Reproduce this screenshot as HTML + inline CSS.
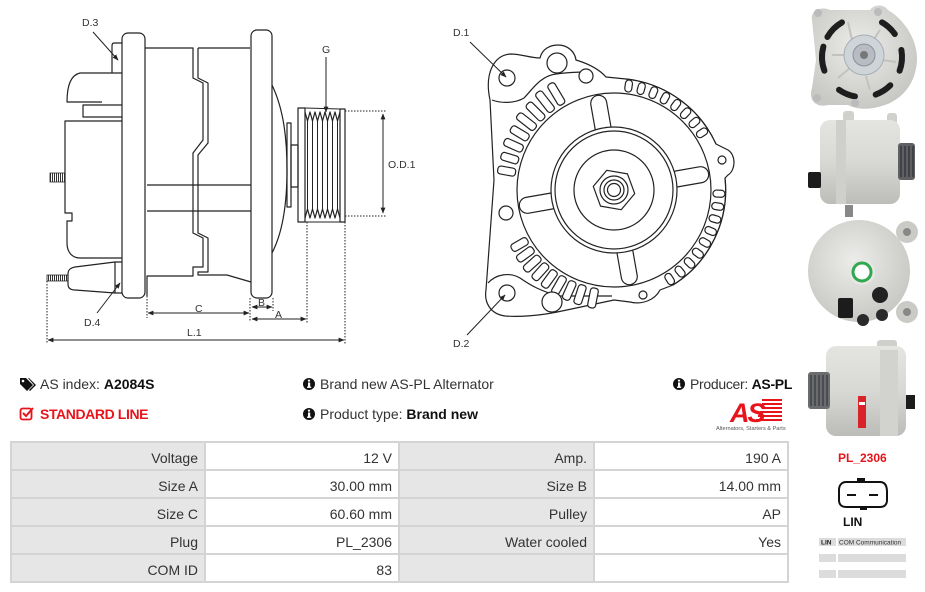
<!DOCTYPE html>
<html><head><meta charset="utf-8">
<style>
*{margin:0;padding:0;box-sizing:border-box}
body{width:925px;height:592px;background:#fff;position:relative;overflow:hidden;font-family:"Liberation Sans",Arial,sans-serif;color:#333}
.t{position:absolute;font-size:14px;line-height:16px;white-space:nowrap;color:#333}
.t b{color:#111}
.cell{position:absolute;height:26px;font-size:14px;line-height:26px;text-align:right;padding-right:6px;color:#333;padding-top:2px}
.g{background:#e6e6e6}
.w{background:#fff}
svg{position:absolute;left:0;top:0}
</style></head><body>
<svg width="925" height="592" viewBox="0 0 925 592" xmlns="http://www.w3.org/2000/svg">
<defs>
<pattern id="hp" width="2" height="10" patternUnits="userSpaceOnUse"><rect width="1" height="10" fill="#333"/></pattern>
<marker id="ar" viewBox="0 0 10 10" refX="9" refY="5" markerWidth="6" markerHeight="6" orient="auto-start-reverse"><path d="M0,1 L10,5 L0,9 Z" fill="#222"/></marker>
<radialGradient id="gp" cx="45%" cy="40%" r="60%"><stop offset="0" stop-color="#ececea"/><stop offset="1" stop-color="#c8c8c4"/></radialGradient>
<linearGradient id="gs" x1="0" y1="0" x2="0" y2="1"><stop offset="0" stop-color="#e4e4e1"/><stop offset="0.5" stop-color="#d8d8d4"/><stop offset="1" stop-color="#bcbcb8"/></linearGradient>
</defs>

<!-- LEFT DIAGRAM -->
<g fill="none" stroke="#222" stroke-width="1.2" stroke-linejoin="round">
<path d="M122,73 L80,73 C71,75 67,86 67,102 L102,102"/>
<path d="M122,105 L83,105 L83,117 L122,117"/>
<path d="M122,121 L65,121 L65,213 L72,213 L72,221 L67,221 L67,243 C67,252 72,258 80,258 L125,258"/>
<path d="M122,43 L114,43 Q112,43 112,46 L112,73"/>
<rect x="50" y="173" width="15" height="9" fill="url(#hp)" stroke-width="0.8"/>
<path d="M115,262 L75,267 C70,268 68,270 68,274 L68,284 C68,288 70,290 75,290 L115,293"/>
<rect x="115" y="262" width="9" height="31"/>
<rect x="47" y="275" width="21" height="6" fill="url(#hp)" stroke-width="0.8"/>
<rect x="122" y="33" width="23" height="265" rx="6" fill="#fff"/>
<path d="M145,48 L193,48 L193,78 L203,83 L203,140 L193,153 L193,233 L203,238 L203,267 L193,267 L193,276 L147,276 L147,296"/>
<path d="M198,48 L250,48"/>
<path d="M198,48 L198,78 L208,83 L208,143 L198,155 L198,233 L208,238 L208,272 L198,272 L198,275 L227,275 L251,282"/>
<path d="M147,185 L251,185 M147,211 L251,211"/>
<rect x="251" y="30" width="21" height="268" rx="6" fill="#fff"/>
<path d="M272,85 C284,110 287,140 287,170 C287,200 284,230 272,253"/>
<rect x="287" y="123" width="4" height="84"/>
<rect x="291" y="145" width="7" height="42"/>
<rect x="298" y="108" width="7" height="114"/>
<rect x="340" y="109" width="5" height="113"/>
<path d="M305,112 L307.5,121 L310,112 L312.5,121 L315,112 L317.5,121 L320,112 L322.5,121 L325,112 L327.5,121 L330,112 L332.5,121 L335,112 L337.5,121 L340,112"/>
<path d="M305,218 L307.5,209 L310,218 L312.5,209 L315,218 L317.5,209 L320,218 L322.5,209 L325,218 L327.5,209 L330,218 L332.5,209 L335,218 L337.5,209 L340,218"/>
<path d="M307.5,121 V209 M312.5,121 V209 M317.5,121 V209 M322.5,121 V209 M327.5,121 V209 M332.5,121 V209 M337.5,121 V209" stroke-width="1"/>
<path d="M305,108 L340,109 M305,222 L340,222" stroke-width="1"/>
</g>
<g fill="none" stroke="#222" stroke-width="1">
<line x1="326" y1="57" x2="326" y2="112" marker-end="url(#ar)"/>
<line x1="93" y1="32" x2="118" y2="60" marker-end="url(#ar)"/>
<line x1="97" y1="313" x2="120" y2="283" marker-end="url(#ar)"/>
<line x1="383" y1="114" x2="383" y2="213" marker-start="url(#ar)" marker-end="url(#ar)"/>
<line x1="148" y1="313" x2="249" y2="313" marker-start="url(#ar)" marker-end="url(#ar)"/>
<line x1="252" y1="307" x2="272" y2="307" marker-start="url(#ar)" marker-end="url(#ar)"/>
<line x1="252" y1="319" x2="306" y2="319" marker-start="url(#ar)" marker-end="url(#ar)"/>
<line x1="48" y1="340" x2="344" y2="340" marker-start="url(#ar)" marker-end="url(#ar)"/>
<g stroke-dasharray="1.5 1.5">
<path d="M345,111 H386 M345,216 H386"/>
<path d="M147,296 V318 M250,298 V322 M273,298 V311 M307,222 V323 M345,222 V344 M47,281 V344"/>
</g>
</g>
<g font-family="Liberation Sans, sans-serif" font-size="10.5" fill="#333">
<text x="82" y="26">D.3</text>
<text x="84" y="326">D.4</text>
<text x="322" y="53">G</text>
<text x="388" y="168">O.D.1</text>
<text x="195" y="312">C</text>
<text x="258" y="306">B</text>
<text x="275" y="318">A</text>
<text x="187" y="336">L.1</text>
<text x="453" y="36">D.1</text>
<text x="453" y="347">D.2</text>
</g>

<!-- MIDDLE DIAGRAM -->
<g fill="#fff" stroke="#222" stroke-width="1.2" stroke-linejoin="round">
<path d="M490,100 C484,72 495,55 510,54 C522,54 530,58 540,58 C542,49 550,45 558,45 C568,45 575,52 576,60 C586,63 598,68 606,77 L626,79 A112,112 0 0 1 716,144 L728,150 C736,155 736,170 728,175 L725,178 A112,112 0 0 1 673,285 L660,290 C655,300 642,305 630,302 L614,300 L562,311 C540,316 518,317 505,316 C490,314 484,302 486,290 L494,180 Z"/>
<path d="M492,100 C500,103 514,104 524,98 C532,90 540,76 556,74 C570,72 580,72 588,72" fill="none"/>
<path d="M488,283 C496,274 510,272 520,278 C530,285 542,292 560,296 L612,296" fill="none"/>
<g fill="#fff">
<rect x="714" y="186" width="24" height="8" rx="3" transform="rotate(-121 614 190)"/>
<rect x="714" y="186" width="24" height="8" rx="3" transform="rotate(-128 614 190)"/>
<rect x="714" y="186" width="22" height="8" rx="3" transform="rotate(-135 614 190)"/>
<rect x="714" y="186" width="22" height="8" rx="3" transform="rotate(-142 614 190)"/>
<rect x="714" y="186" width="20" height="8" rx="3" transform="rotate(-149 614 190)"/>
<rect x="714" y="186" width="20" height="8" rx="3" transform="rotate(-156 614 190)"/>
<rect x="714" y="186" width="18" height="8" rx="3" transform="rotate(-163 614 190)"/>
<rect x="714" y="186" width="18" height="8" rx="3" transform="rotate(-170 614 190)"/>
<rect x="714" y="186" width="18" height="8" rx="3" transform="rotate(150 614 190)"/>
<rect x="714" y="186" width="19" height="8" rx="3" transform="rotate(144 614 190)"/>
<rect x="714" y="186" width="20" height="8" rx="3" transform="rotate(138 614 190)"/>
<rect x="714" y="186" width="20" height="8" rx="3" transform="rotate(132 614 190)"/>
<rect x="714" y="186" width="20" height="8" rx="3" transform="rotate(126 614 190)"/>
<rect x="714" y="186" width="20" height="8" rx="3" transform="rotate(120 614 190)"/>
<rect x="714" y="186" width="20" height="8" rx="3" transform="rotate(114 614 190)"/>
<rect x="714" y="186" width="20" height="8" rx="3" transform="rotate(108 614 190)"/>
<rect x="714" y="186" width="20" height="8" rx="3" transform="rotate(101 614 190)"/>
</g>
<g fill="#fff">
<rect x="713" y="186.5" width="12" height="7" rx="3.5" transform="rotate(-82 614 190)"/>
<rect x="713" y="186.5" width="12" height="7" rx="3.5" transform="rotate(-75 614 190)"/>
<rect x="713" y="186.5" width="12" height="7" rx="3.5" transform="rotate(-68 614 190)"/>
<rect x="713" y="186.5" width="12" height="7" rx="3.5" transform="rotate(-61 614 190)"/>
<rect x="713" y="186.5" width="12" height="7" rx="3.5" transform="rotate(-54 614 190)"/>
<rect x="713" y="186.5" width="12" height="7" rx="3.5" transform="rotate(-47 614 190)"/>
<rect x="713" y="186.5" width="12" height="7" rx="3.5" transform="rotate(-40 614 190)"/>
<rect x="713" y="186.5" width="12" height="7" rx="3.5" transform="rotate(-33 614 190)"/>
<rect x="713" y="186.5" width="12" height="7" rx="3.5" transform="rotate(2 614 190)"/>
<rect x="713" y="186.5" width="12" height="7" rx="3.5" transform="rotate(9 614 190)"/>
<rect x="713" y="186.5" width="12" height="7" rx="3.5" transform="rotate(16 614 190)"/>
<rect x="713" y="186.5" width="12" height="7" rx="3.5" transform="rotate(23 614 190)"/>
<rect x="713" y="186.5" width="12" height="7" rx="3.5" transform="rotate(30 614 190)"/>
<rect x="713" y="186.5" width="12" height="7" rx="3.5" transform="rotate(37 614 190)"/>
<rect x="713" y="186.5" width="12" height="7" rx="3.5" transform="rotate(44 614 190)"/>
<rect x="713" y="186.5" width="12" height="7" rx="3.5" transform="rotate(51 614 190)"/>
<rect x="713" y="186.5" width="12" height="7" rx="3.5" transform="rotate(58 614 190)"/>
</g>
<path d="M626,79 A112,112 0 0 1 716,144 M725,178 A112,112 0 0 1 673,285" fill="none"/>
<circle cx="614" cy="190" r="97"/>
<g fill="#fff">
<rect x="670" y="182" width="40" height="16" rx="8" transform="rotate(-100 614 190)"/>
<rect x="670" y="182" width="40" height="16" rx="8" transform="rotate(-10 614 190)"/>
<rect x="670" y="182" width="40" height="16" rx="8" transform="rotate(80 614 190)"/>
<rect x="670" y="182" width="40" height="16" rx="8" transform="rotate(170 614 190)"/>
</g>
<circle cx="614" cy="190" r="63"/>
<circle cx="614" cy="190" r="59"/>
<circle cx="614" cy="190" r="40"/>
<polygon points="634.7,193.6 621.2,209.7 600.5,206.1 593.3,186.4 606.8,170.3 627.5,173.9"/>
<circle cx="614" cy="190" r="14"/>
<circle cx="614" cy="190" r="10"/>
<circle cx="614" cy="190" r="6.5"/>
<circle cx="507" cy="78" r="8"/>
<circle cx="557" cy="63" r="10"/>
<circle cx="586" cy="76" r="7"/>
<circle cx="506" cy="213" r="7"/>
<circle cx="507" cy="293" r="8"/>
<circle cx="552" cy="302" r="10"/>
<circle cx="722" cy="160" r="4"/>
<circle cx="643" cy="295" r="4"/>
</g>
<g stroke="#222" stroke-width="1" fill="none">
<line x1="470" y1="42" x2="506" y2="77" marker-end="url(#ar)"/>
<line x1="467" y1="335" x2="505" y2="295" marker-end="url(#ar)"/>
</g>

<!-- PHOTOS -->
<!-- photo 1 front -->
<g>
<path d="M812,20 C810,10 822,6 830,10 L870,10 C874,4 884,4 888,10 C905,20 917,40 917,58 C917,80 905,98 885,105 C870,110 858,110 848,105 L828,105 C816,108 808,100 812,88 L816,60 Z" fill="url(#gp)"/>
<g fill="none" stroke="#1e1e1e" stroke-width="6" stroke-linecap="round">
<path d="M827.4,37 A40,40 0 0 1 842,22.4"/>
<path d="M882,22.4 A40,40 0 0 1 894.8,34"/>
<path d="M901.4,50 A40,40 0 0 1 899.6,70.7"/>
<path d="M890.3,85.3 A40,40 0 0 1 875.7,94.6"/>
<path d="M855,96.4 A40,40 0 0 1 839,89.8"/>
<path d="M824.4,70.7 A40,40 0 0 1 823.4,46.6"/>
</g>
<g fill="none" stroke="#c2c2be" stroke-width="2">
<path d="M848,22 L852,40 M880,30 L872,42 M896,62 L882,60 M870,90 L866,76 M838,78 L850,68 M832,55 L846,55"/>
</g>
<circle cx="864" cy="55" r="20" fill="#cfd4d8" stroke="#a8aeb3"/>
<circle cx="864" cy="55" r="11" fill="#b6bcc2" stroke="#8c9297"/>
<circle cx="864" cy="55" r="4" fill="#777"/>
<circle cx="818" cy="13" r="4" fill="#bbb"/><circle cx="878" cy="12" r="4" fill="#bbb"/><circle cx="817" cy="98" r="4" fill="#bbb"/><circle cx="855" cy="103" r="4" fill="#bbb"/>
</g>
<!-- photo 2 side -->
<g>
<rect x="843" y="111" width="11" height="16" rx="3" fill="#d0d0cc"/>
<rect x="887" y="113" width="10" height="12" rx="3" fill="#d0d0cc"/>
<rect x="820" y="120" width="80" height="84" rx="10" fill="url(#gs)"/>
<rect x="836" y="120" width="10" height="84" fill="#cfcfcb"/>
<rect x="898" y="143" width="17" height="37" rx="3" fill="#5e6063"/>
<path d="M901,146 V177 M905,146 V177 M909,146 V177 M913,146 V177" stroke="#2e3033" stroke-width="1.2"/>
<rect x="808" y="172" width="13" height="16" rx="2" fill="#1c1c1c"/>
<rect x="845" y="205" width="8" height="12" fill="#888"/>
</g>
<!-- photo 3 rear -->
<g>
<circle cx="907" cy="232" r="11" fill="#cacac6"/>
<circle cx="907" cy="312" r="11" fill="#cacac6"/>
<circle cx="859" cy="271" r="51" fill="url(#gp)"/>
<circle cx="907" cy="232" r="4" fill="#888"/>
<circle cx="907" cy="312" r="4" fill="#888"/>
<circle cx="862" cy="272" r="13" fill="#e6e6e3"/>
<circle cx="862" cy="272" r="9" fill="#fff" stroke="#2fa84f" stroke-width="3"/>
<rect x="838" y="298" width="15" height="20" rx="2" fill="#1c1c1c"/>
<circle cx="880" cy="295" r="8" fill="#222"/>
<circle cx="863" cy="320" r="6" fill="#2a2a2a"/>
<circle cx="882" cy="315" r="6" fill="#2a2a2a"/>
</g>
<!-- photo 4 side -->
<g>
<rect x="877" y="340" width="20" height="18" rx="3" fill="#cfcfcb"/>
<rect x="826" y="346" width="80" height="90" rx="10" fill="url(#gs)"/>
<rect x="880" y="350" width="18" height="86" fill="#d2d2ce"/>
<rect x="808" y="372" width="22" height="37" rx="3" fill="#6a6c6f"/>
<path d="M811,375 V406 M815,375 V406 M819,375 V406 M823,375 V406 M827,375 V406" stroke="#35373a" stroke-width="1.2"/>
<rect x="858" y="396" width="8" height="32" fill="#d8232a"/>
<rect x="859" y="402" width="6" height="3" fill="#fff"/>
<rect x="906" y="395" width="9" height="14" fill="#1c1c1c"/>
</g>

<!-- icons -->
<g>
<path d="M20,378 L26,378 L33,385 L27,391 L20,384 Z" fill="#111"/>
<circle cx="23" cy="381" r="1.3" fill="#fff"/>
<path d="M28,378 L29,378 L36,385 L30,391 L29,390 L34,385 Z" fill="#111"/>
<rect x="20.5" y="408.5" width="11" height="11" rx="2" fill="none" stroke="#e8141b" stroke-width="1.8"/>
<path d="M23,413 L26,416 L33,408" fill="none" stroke="#e8141b" stroke-width="2"/>
<g fill="#111"><circle cx="309" cy="384" r="6"/><circle cx="309" cy="414" r="6"/><circle cx="679" cy="384" r="6"/></g>
<g fill="#fff">
<circle cx="309" cy="380.6" r="1.1"/><rect x="308" y="382.5" width="2.2" height="5"/><rect x="307" y="386.6" width="4.2" height="1.3"/>
<circle cx="309" cy="410.6" r="1.1"/><rect x="308" y="412.5" width="2.2" height="5"/><rect x="307" y="416.6" width="4.2" height="1.3"/>
<circle cx="679" cy="380.6" r="1.1"/><rect x="678" y="382.5" width="2.2" height="5"/><rect x="677" y="386.6" width="4.2" height="1.3"/>
</g>
</g>
<!-- AS logo -->
<g>
<g fill="#e8141b">
<rect x="762" y="399" width="20" height="2"/><rect x="762" y="403" width="20" height="2"/><rect x="762" y="407" width="20" height="2"/><rect x="760" y="411" width="22" height="2"/><rect x="758" y="415" width="24" height="2"/><rect x="756" y="419" width="26" height="2"/>
</g>
<text x="730" y="422" font-family="Liberation Sans, sans-serif" font-size="27" font-weight="bold" font-style="italic" fill="#e8141b" letter-spacing="-2">AS</text>
<text x="716" y="430" font-family="Liberation Sans, sans-serif" font-size="5.6" fill="#555">Alternators, Starters &amp; Parts</text>
</g>

<!-- connector icon -->
<g fill="none" stroke="#111" stroke-width="2">
<path d="M846,482 L880,482 C885,482 887,486 887,492 L887,500 C887,505 884,507 880,507 L846,507 C841,507 839,504 839,500 L839,490 C839,485 842,482 846,482 Z"/>
<path d="M847,495 H856 M869,495 H878"/>
</g>
<rect x="857" y="478" width="8" height="5" fill="#111"/>
<rect x="860" y="506" width="7" height="4" fill="#111"/>
<!-- small table -->
<g fill="#dcdcdc">
<rect x="819" y="538" width="17" height="8"/><rect x="838" y="538" width="68" height="8"/>
<rect x="819" y="554" width="17" height="8"/><rect x="838" y="554" width="68" height="8"/>
<rect x="819" y="570" width="17" height="8"/><rect x="838" y="570" width="68" height="8"/>
</g>
<text x="821" y="544.5" font-family="Liberation Sans, sans-serif" font-size="6.5" font-weight="bold" fill="#222">LIN</text>
<text x="839" y="544.5" font-family="Liberation Sans, sans-serif" font-size="6.5" fill="#333">COM Communication</text>
</svg>

<div class="t" style="left:40px;top:376px">AS index: <b>A2084S</b></div>
<div class="t" style="left:40px;top:406px;color:#e8141b;font-weight:bold;letter-spacing:-0.4px">STANDARD LINE</div>
<div class="t" style="left:320px;top:376px">Brand new AS-PL Alternator</div>
<div class="t" style="left:320px;top:406px">Product type: <b>Brand new</b></div>
<div class="t" style="left:690px;top:376px;letter-spacing:-0.3px">Producer: <b>AS-PL</b></div>

<div class="t" style="left:838px;top:450px;font-size:12px;font-weight:bold;color:#e8141b">PL_2306</div>
<div class="t" style="left:843px;top:514px;font-size:12px;font-weight:bold;color:#111">LIN</div>

<!-- table -->
<div style="position:absolute;left:10px;top:441px;width:779px;height:142px;background:#d4d4d4"></div>
<div class="cell g" style="left:12px;top:443px;width:192px">Voltage</div>
<div class="cell w" style="left:206px;top:443px;width:192px">12 V</div>
<div class="cell g" style="left:400px;top:443px;width:193px">Amp.</div>
<div class="cell w" style="left:595px;top:443px;width:192px">190 A</div>
<div class="cell g" style="left:12px;top:471px;width:192px">Size A</div>
<div class="cell w" style="left:206px;top:471px;width:192px">30.00 mm</div>
<div class="cell g" style="left:400px;top:471px;width:193px">Size B</div>
<div class="cell w" style="left:595px;top:471px;width:192px">14.00 mm</div>
<div class="cell g" style="left:12px;top:499px;width:192px">Size C</div>
<div class="cell w" style="left:206px;top:499px;width:192px">60.60 mm</div>
<div class="cell g" style="left:400px;top:499px;width:193px">Pulley</div>
<div class="cell w" style="left:595px;top:499px;width:192px">AP</div>
<div class="cell g" style="left:12px;top:527px;width:192px">Plug</div>
<div class="cell w" style="left:206px;top:527px;width:192px">PL_2306</div>
<div class="cell g" style="left:400px;top:527px;width:193px">Water cooled</div>
<div class="cell w" style="left:595px;top:527px;width:192px">Yes</div>
<div class="cell g" style="left:12px;top:555px;width:192px">COM ID</div>
<div class="cell w" style="left:206px;top:555px;width:192px">83</div>
<div class="cell g" style="left:400px;top:555px;width:193px"></div>
<div class="cell w" style="left:595px;top:555px;width:192px"></div>
</body></html>
